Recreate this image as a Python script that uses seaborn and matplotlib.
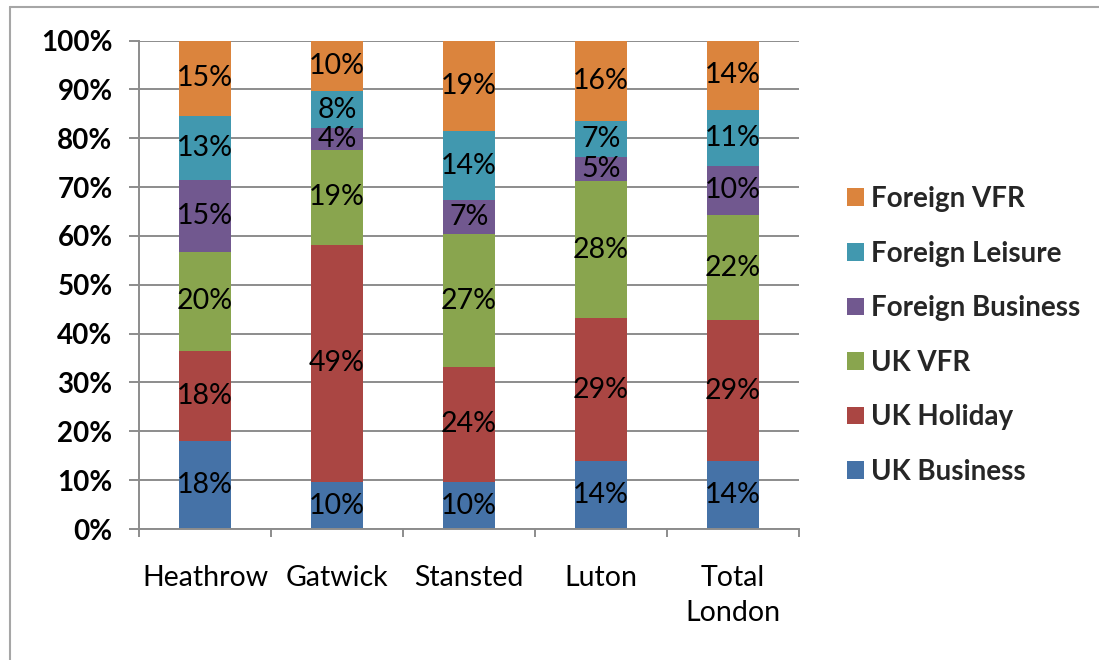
import numpy as np
import pandas as pd
import matplotlib
matplotlib.use("Agg")
import matplotlib.pyplot as plt
from matplotlib.patches import Patch
from matplotlib.lines import Line2D
from matplotlib.ticker import FixedLocator, FuncFormatter
import seaborn as sns

# Passenger purpose mix by London airport (share of passengers, %)
airports = ["Heathrow", "Gatwick", "Stansted", "Luton", "Total\nLondon"]
segments = ["UK Business", "UK Holiday", "UK VFR",
            "Foreign Business", "Foreign Leisure", "Foreign VFR"]
uk_business = [18.0, 9.6, 9.6, 13.9, 13.9]
uk_holiday = [18.4, 48.6, 23.6, 29.2, 28.8]
uk_vfr = [20.4, 19.4, 27.1, 28.2, 21.6]
foreign_business = [14.6, 4.4, 7.0, 4.9, 10.0]
foreign_leisure = [13.2, 7.7, 14.1, 7.4, 11.4]
foreign_vfr = [15.4, 10.3, 18.6, 16.4, 14.3]
y_ticks = [0, 10, 20, 30, 40, 50, 60, 70, 80, 90, 100]

colors = ["#4572A7", "#AA4643", "#89A54E", "#71588F", "#4198AF", "#DB843D"]

series = [uk_business, uk_holiday, uk_vfr,
          foreign_business, foreign_leisure, foreign_vfr]
rows = []
for seg, vals in zip(segments, series):
    for ap, v in zip(airports, vals):
        rows.append({"airport": ap, "segment": seg, "share": v})
df = pd.DataFrame(rows)
df["segment"] = pd.Categorical(df["segment"], categories=segments, ordered=True)
df = df.sort_values(["airport", "segment"])
df["top"] = df.groupby("airport")["share"].cumsum()

sns.set_style("white")
plt.rcParams["font.family"] = ["Lato", "DejaVu Sans"]

W, H = 1099, 660
fig = plt.figure(figsize=(W / 100, H / 100), dpi=100)
ax = fig.add_axes([139 / W, 1 - 529 / H, (799 - 139) / W, (529 - 40.5) / H])

# Stacked bars: draw cumulative totals from the top segment down
for seg, col in reversed(list(zip(segments, colors))):
    sub = df[df["segment"] == seg]
    sns.barplot(data=sub, x="airport", y="top", order=airports, color=col,
                saturation=1, width=0.39, errorbar=None, ax=ax, zorder=2,
                linewidth=0, edgecolor="none")

for _, r in df.iterrows():
    i = airports.index(r["airport"])
    ax.text(i, r["top"] - r["share"] / 2, f"{r['share']:.0f}%",
            ha="center", va="center", fontsize=20.5, color="black", zorder=3)

grid_col = "#8c8c8c"
ax.set_ylim(0, 100)
ax.set_xlim(-0.5, len(airports) - 0.5)
ax.yaxis.set_major_locator(FixedLocator(y_ticks))
ax.yaxis.set_major_formatter(FuncFormatter(lambda v, p: f"{v:.0f}%"))
ax.yaxis.grid(True, color=grid_col, linewidth=1.4)
ax.set_axisbelow(True)
ax.set_xlabel("")
ax.set_ylabel("")

for s in ["top", "right"]:
    ax.spines[s].set_visible(False)
for s in ["left", "bottom"]:
    ax.spines[s].set_color(grid_col)
    ax.spines[s].set_linewidth(1.4)

ax.tick_params(axis="y", which="major", length=7, width=1.4, color=grid_col,
               pad=12, labelsize=20, labelcolor="black", left=True)
for lab in ax.get_yticklabels():
    lab.set_fontweight("bold")

ax.xaxis.set_minor_locator(FixedLocator(np.arange(-0.5, len(airports), 1.0)))
ax.tick_params(axis="x", which="minor", length=6, width=1.4, color=grid_col,
               direction="out", bottom=True)
ax.tick_params(axis="x", which="major", length=0, pad=26, labelsize=20.5,
               labelcolor="black")
for lab in ax.get_xticklabels():
    lab.set_linespacing(1.4)

handles = [Patch(facecolor=c, edgecolor="none") for c in colors][::-1]
labels = segments[::-1]
ax.legend(handles, labels, loc="center left",
          bbox_to_anchor=(847 / W, 1 - 335.5 / H), bbox_transform=fig.transFigure,
          frameon=False, borderpad=0, borderaxespad=0,
          handlelength=0.6, handleheight=0.6, handletextpad=0.25,
          labelspacing=1.03, prop={"size": 20, "weight": "bold"})

# Chart frame edges
border = "#a6a6a6"
fig.add_artist(Line2D([9.5 / W, 1], [1 - 7 / H, 1 - 7 / H],
                      transform=fig.transFigure, color=border, lw=1.5))
fig.add_artist(Line2D([9.5 / W, 9.5 / W], [0, 1 - 7 / H],
                      transform=fig.transFigure, color=border, lw=1.5))

fig.savefig("out.png", dpi=100, facecolor="white")
